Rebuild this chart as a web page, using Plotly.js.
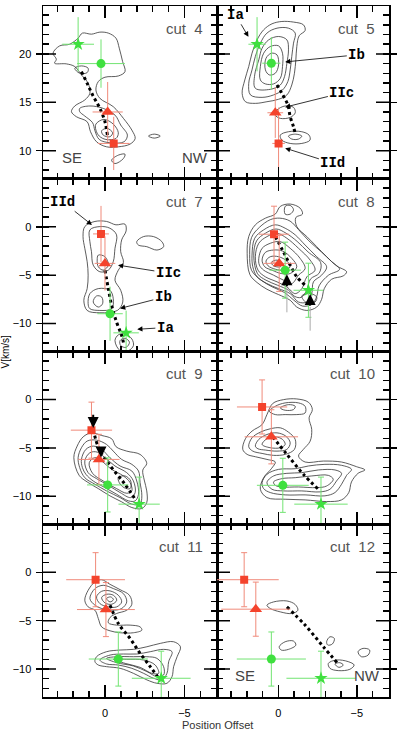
<!DOCTYPE html>
<html><head><meta charset="utf-8">
<script src="https://cdn.plot.ly/plotly-3.0.1.min.js"></script>
<style>html,body{margin:0;padding:0;background:#fff;}#chart{width:397px;height:731px;}</style>
</head><body><div id="chart"></div>
<script>
// ---------------- data ----------------
const cutNames = ['cut\u00a0\u00a04','cut\u00a0\u00a05','cut\u00a0\u00a07','cut\u00a0\u00a08','cut\u00a0\u00a09','cut\u00a0\u00a010','cut\u00a0\u00a011','cut\u00a0\u00a012'];
// Component Ia (green star)
const IaX  = [1.69, 1.35, -1.33, -1.92, -2.15, -2.72, -3.54, -2.72];
const IaY  = [21.0, 21.0, -10.97, -6.56, -10.82, -10.82, -10.96, -10.96];
const IaEx = [1.0, 0.55, 0.8, 0.95, 1.3, 1.7, 1.85, 2.2];
const IaEy = [2.8, 2.8, 2.3, 2.8, 2.8, 2.8, 2.8, 2.8];
// Component Ib (green circle)
const IbX  = [0.25, 0.44, -0.32, -0.44, -0.17, -0.29, -0.84, 0.44];
const IbY  = [19.0, 19.04, -8.99, -4.48, -8.83, -8.87, -8.97, -8.97];
const IbEx = [1.5, 0.58, 0.8, 1.0, 1.3, 1.65, 1.86, 2.2];
const IbEy = [2.5, 2.7, 2.8, 2.9, 2.8, 2.8, 2.8, 2.8];
// Component IIc (red triangle)
const IIcX  = [-0.17, 0.19, 0.0, -0.06, 0.38, 0.44, -0.06, 1.43];
const IIcY  = [14.0, 13.92, -3.78, -3.78, -6.19, -3.85, -3.85, -3.81];
const IIcEx = [0.95, 0.5, 0.65, 1.0, 1.3, 1.7, 1.82, 2.2];
const IIcEy = [3.1, 2.6, 2.8, 2.9, 2.6, 2.8, 2.8, 2.8];
// Component IId (red square)
const IIdX  = [-0.55, -0.02, 0.25, 0.27, 0.85, 1.03, 0.59, 2.17];
const IIdY  = [10.75, 10.75, -0.73, -0.76, -3.16, -0.76, -0.76, -0.76];
const IIdEx = [1.0, 0.4, 0.5, 0.97, 1.3, 1.6, 1.85, 2.2];
const IIdEy = [2.75, 3.7, 2.9, 2.9, 2.9, 2.8, 2.8, 2.8];

// dotted ridge lines (x, y) per cut
const ridgeX = [
  [1.48, 1.12, 0.78, 0.32, 0.0, -0.15],
  [0.08, -0.23, -0.61, -0.76, -0.97, -1.08],
  [0.0, -0.21, -0.42, -0.73, -1.05, -1.2],
  [0.19, -0.27, -0.76, -1.18, -1.71],
  [0.74, 0.36, -0.42, -1.26, -1.9],
  [0.36, -0.55, -1.6, -2.55],
  [-0.32, -0.84, -1.58, -2.21, -2.85, -3.31],
  [-0.55, -1.71, -2.87, -3.82]
];
const ridgeY = [
  [18.17, 16.96, 15.76, 14.37, 12.99, 11.61],
  [16.79, 15.93, 14.72, 13.51, 12.47, 11.78],
  [-4.48, -6.39, -8.13, -9.86, -11.25, -12.29],
  [-1.01, -2.4, -3.96, -5.17, -6.04],
  [-3.09, -5.15, -7.04, -8.76, -10.31],
  [-3.85, -5.67, -7.73, -9.28],
  [-3.4, -5.29, -6.84, -8.38, -9.76, -10.79],
  [-3.57, -5.46, -7.7, -9.48]
];

// contour outlines: flat lists x1,y1,x2,y2,...
const cont4 = [
  [3.27,20.07, 2.85,20.83, 2.22,21.0, 1.69,21.63, 1.42,22.15, 0.85,22.04, 0.32,22.25, -0.21,22.15, -0.69,21.63, -0.9,20.59, -1.11,19.21, -1.26,18.17, -0.84,17.72, 0.0,17.59, 0.42,17.14, 0.57,16.27, 0.32,15.41, -0.52,14.55, -1.16,13.34, -1.69,12.13, -1.9,11.26, -1.58,10.68, -0.84,10.4, -0.1,10.4, 0.53,10.92, 0.91,11.96, 1.12,12.99, 1.8,13.51, 2.11,14.03, 1.9,14.62, 1.27,15.24, 0.95,15.93, 1.06,16.96, 1.48,17.83, 1.9,18.69, 2.43,18.97, 3.17,19.04, 3.06,19.45],
  [1.9,18.52, 1.48,18.76, 1.06,18.52, 1.12,18.07, 1.59,18.0],
  [1.59,14.37, 0.95,14.62, 0.11,14.37, -0.63,13.68, -0.99,12.65, -1.41,11.61, -1.2,10.92, -0.31,10.82, 0.36,11.16, 0.63,12.06, 0.78,12.89, 1.27,13.58, 1.59,14.03],
  [0.57,12.75, 0.07,13.23, -0.52,12.75, -0.84,11.85, -0.69,11.26, -0.06,11.16, 0.36,11.51, 0.57,12.13],
  [0.21,12.06, -0.14,12.3, -0.48,11.85, -0.31,11.44, 0.11,11.61],
  [-2.74,11.51, -3.1,11.71, -3.48,11.51, -3.1,11.3],
  [-0.42,9.02, -0.84,9.54, -1.26,9.64, -1.16,9.19, -0.63,8.67]
];
const cont5 = [
  [2.09,15.06, 2.3,15.93, 2.13,17.31, 1.88,18.69, 1.67,20.07, 1.35,21.45, 0.93,22.49, 0.4,23.11, -0.23,23.35, -0.97,23.29, -1.6,23.01, -1.71,22.42, -1.33,21.87, -1.18,20.76, -1.12,19.38, -1.03,18.0, -0.86,16.79, -0.55,15.76, -0.02,15.31, 0.72,15.06, 1.46,14.89],
  [1.77,15.76, 1.88,16.96, 1.67,18.35, 1.46,19.73, 1.14,21.11, 0.72,22.15, 0.08,22.66, -0.65,22.66, -1.08,22.15, -0.97,21.11, -0.86,19.73, -0.76,18.35, -0.61,17.14, -0.27,16.27, 0.3,15.76, 1.03,15.51],
  [1.46,16.45, 1.5,17.83, 1.24,19.38, 1.03,20.59, 0.61,21.45, -0.02,21.8, -0.55,21.45, -0.65,20.42, -0.55,19.04, -0.4,17.66, -0.13,16.79, 0.51,16.34],
  [1.14,17.31, 1.14,18.69, 0.93,20.07, 0.51,20.76, -0.02,20.83, -0.27,20.07, -0.27,18.69, -0.13,17.48, 0.3,16.9, 0.82,16.9],
  [0.82,18.35, 0.78,19.55, 0.44,20.07, 0.08,19.9, -0.02,18.86, 0.19,18.0, 0.57,17.83],
  [0.08,14.2, -0.44,14.62, -0.97,14.48, -1.08,13.92, -0.76,13.44, -0.13,13.34, 0.19,13.68],
  [-0.13,11.61, -0.65,11.96, -1.5,11.96, -1.96,11.61, -2.02,11.09, -1.5,10.75, -0.76,10.75, -0.23,11.09],
  [-0.65,11.51, -1.08,11.71, -1.5,11.51, -1.29,11.2, -0.86,11.2]
];
const cont7 = [
  [1.27,0.03, 0.63,0.56, -0.1,0.56, -0.69,0.21, -1.26,0.28, -1.33,-0.42, -1.05,-1.35, -0.99,-2.57, -1.16,-3.68, -0.84,-4.48, -0.63,-5.52, -0.99,-6.56, -1.12,-7.78, -0.78,-8.65, 0.32,-8.89, 1.12,-8.65, 1.33,-7.6, 1.12,-6.39, 1.06,-5.0, 1.12,-3.61, 1.27,-2.22, 1.38,-1.01],
  [0.95,-0.31, 0.32,0.03, -0.31,-0.14, -0.73,-0.83, -0.63,-2.22, -0.52,-3.61, -0.21,-4.48, 0.32,-4.65, 0.74,-3.96, 0.85,-2.57, 0.95,-1.53],
  [0.42,-2.92, 0.0,-3.09, -0.21,-3.96, 0.11,-4.48, 0.42,-4.13, 0.49,-3.44],
  [1.06,-7.95, 0.95,-6.91, 0.42,-6.39, -0.31,-6.56, -0.52,-7.43, -0.42,-8.47, 0.32,-8.65, 0.95,-8.47],
  [0.74,-7.78, 0.53,-7.15, 0.21,-7.26, 0.15,-7.95, 0.42,-8.3],
  [-0.63,-11.77, -0.84,-11.18, -1.26,-11.08, -1.69,-11.6, -1.79,-12.29, -1.48,-12.81, -0.95,-12.81],
  [-0.95,-11.77, -1.26,-11.53, -1.54,-11.94, -1.33,-12.47, -0.99,-12.29],
  [-2.0,-1.53, -2.42,-1.01, -3.06,-1.01, -3.58,-1.53, -3.69,-2.05, -3.27,-2.4, -2.63,-2.05, -2.1,-1.88]
];
const cont8 = [
  [1.98,-2.74, 1.88,-1.01, 1.46,0.21, 0.82,0.9, 0.19,1.32, -0.13,2.12, -0.76,2.36, -1.39,1.94, -1.54,1.32, -1.12,0.97, -1.18,0.03, -1.82,-1.01, -2.45,-2.05, -3.08,-3.09, -3.71,-4.03, -4.35,-4.65, -4.14,-5.07, -3.4,-5.42, -2.93,-6.39, -2.76,-7.5, -2.45,-8.3, -1.82,-8.65, -1.18,-8.3, -0.76,-7.6, -0.02,-7.01, 0.72,-6.46, 1.35,-5.76, 1.81,-4.93],
  [1.82,-2.85, 1.7,-1.1, 1.2,-0.05, 0.5,0.75, -0.1,0.9, -0.75,0.6, -1.3,-0.3, -1.95,-1.45, -2.75,-2.6, -3.4,-3.6, -3.9,-4.4, -3.2,-5.0, -2.6,-6.1, -2.45,-7.2, -2.15,-8.0, -1.55,-8.2, -1.0,-7.6, -0.4,-6.8, 0.4,-6.2, 1.1,-5.5, 1.7,-4.5],
  [1.67,-2.92, 1.5,-1.18, 0.93,-0.31, 0.19,0.21, -0.44,-0.14, -1.08,-0.83, -1.71,-1.88, -2.45,-3.09, -3.08,-4.13, -2.76,-5.0, -2.24,-5.69, -2.13,-6.91, -1.82,-7.78, -1.29,-7.78, -0.76,-6.91, -0.02,-6.39, 0.72,-5.87, 1.35,-5.17, 1.62,-4.13],
  [1.56,-3.0, 1.38,-1.45, 0.82,-0.66, 0.14,-0.22, -0.5,-0.66, -1.2,-1.5, -1.9,-2.6, -2.7,-3.7, -2.6,-4.8, -2.05,-5.4, -1.8,-6.6, -1.45,-7.3, -1.05,-7.2, -0.65,-6.55, 0.03,-6.05, 0.78,-5.52, 1.32,-4.85],
  [1.46,-3.09, 1.24,-1.7, 0.72,-1.01, 0.08,-0.66, -0.55,-1.18, -1.29,-2.22, -2.03,-3.44, -2.34,-4.48, -1.82,-5.17, -1.5,-6.39, -1.08,-6.91, -0.55,-6.22, 0.08,-5.69, 0.82,-5.17, 1.29,-4.48],
  [1.24,-3.26, 1.03,-2.22, 0.51,-1.7, -0.13,-1.53, -0.76,-2.22, -1.39,-3.26, -1.71,-4.31, -1.29,-5.0, -0.86,-5.87, -0.34,-5.52, 0.3,-5.0, 0.93,-4.48, 1.2,-3.96],
  [1.03,-3.44, 0.82,-2.64, 0.3,-2.4, -0.27,-2.5, -0.86,-3.26, -1.18,-4.13, -0.76,-4.83, -0.19,-4.83, 0.4,-4.48, 0.86,-4.13],
  [0.78,-3.54, 0.51,-3.09, -0.02,-3.09, -0.55,-3.54, -0.76,-4.13, -0.34,-4.48, 0.19,-4.38, 0.65,-4.03],
  [0.44,-3.68, 0.08,-3.44, -0.27,-3.78, -0.13,-4.13, 0.3,-4.03],
  [-1.5,-7.15, -2.03,-6.91, -2.45,-7.26, -2.34,-7.78, -1.82,-7.88],
  [-0.44,2.12, -0.76,2.22, -0.97,1.77, -0.76,1.32, -0.44,1.32]
];
const cont9 = [
  [1.96,-6.01, 1.75,-4.81, 1.37,-3.85, 0.85,-3.44, 0.21,-3.71, -0.42,-4.05, -0.7,-4.88, -1.37,-5.33, -2.21,-5.67, -2.63,-6.6, -2.38,-7.29, -2.47,-8.32, -2.63,-9.45, -2.63,-10.65, -2.32,-11.27, -1.69,-11.17, -1.05,-10.58, -0.31,-9.96, 0.42,-9.21, 1.12,-8.52, 1.63,-7.83],
  [1.69,-6.01, 1.48,-4.98, 1.12,-4.29, 0.53,-4.19, -0.1,-4.64, -0.52,-5.33, -1.05,-6.19, -1.69,-6.7, -2.11,-7.39, -2.21,-8.59, -2.32,-9.96, -2.21,-10.82, -1.69,-10.82, -0.95,-10.14, -0.1,-9.45, 0.63,-8.76, 1.27,-8.08, 1.59,-7.04],
  [1.48,-6.19, 1.2,-5.15, 0.74,-4.81, 0.21,-5.15, -0.31,-6.01, -0.95,-6.87, -1.69,-7.39, -2.0,-8.42, -2.11,-9.79, -1.9,-10.48, -1.48,-10.48, -0.73,-9.79, 0.0,-9.11, 0.74,-8.42, 1.2,-7.73, 1.42,-7.04],
  [1.27,-6.36, 0.95,-5.5, 0.49,-5.43, 0.0,-6.01, -0.63,-6.87, -1.37,-7.56, -1.79,-8.42, -1.9,-9.62, -1.62,-10.14, -0.95,-9.62, -0.21,-8.87, 0.53,-8.18, 1.06,-7.56],
  [0.99,-6.53, 0.63,-6.01, 0.21,-6.36, -0.42,-7.22, -1.16,-7.9, -1.58,-8.59, -1.69,-9.45, -1.37,-9.69, -0.73,-9.21, 0.11,-8.42, 0.78,-7.63],
  [-0.84,-8.08, -1.26,-7.9, -1.62,-8.42, -1.58,-9.21, -1.2,-9.11, -0.9,-8.59]
];
const cont10 = [
  [2.26,-5.15, 2.09,-4.05, 1.67,-3.26, 1.03,-2.58, 0.72,-1.55, 0.36,-0.41, -0.34,0.0, -1.18,0.07, -1.92,-0.27, -2.17,-1.03, -1.96,-1.89, -2.13,-3.09, -2.03,-4.3, -1.6,-5.15, -1.29,-5.84, -1.71,-6.46, -2.87,-6.36, -4.03,-6.46, -4.98,-6.94, -5.51,-7.28, -5.08,-7.63, -4.66,-8.52, -4.49,-9.62, -4.03,-10.38, -3.08,-10.55, -1.71,-10.38, -0.44,-10.31, 0.72,-10.14, 1.14,-9.28, 0.93,-8.08, 0.44,-7.15, 0.19,-6.46, 0.72,-6.19, 1.46,-5.91, 1.98,-5.67],
  [1.88,-4.88, 1.67,-3.95, 1.14,-3.37, 0.51,-3.02, -0.13,-2.92, -0.65,-3.37, -1.08,-4.12, -1.03,-5.15, -0.44,-5.67, 0.3,-5.77, 1.03,-5.57, 1.62,-5.33],
  [1.46,-4.81, 1.24,-4.12, 0.72,-3.61, 0.08,-3.44, -0.48,-3.78, -0.76,-4.47, -0.55,-5.15, 0.08,-5.33, 0.82,-5.22, 1.29,-5.09],
  [1.03,-4.64, 0.72,-4.05, 0.19,-3.85, -0.27,-4.12, -0.44,-4.64, -0.13,-4.98, 0.51,-4.98],
  [0.57,-1.2, 0.19,-0.69, -0.44,-0.34, -1.29,-0.34, -1.71,-0.69, -1.71,-1.38, -1.18,-1.55, -0.44,-1.55, 0.19,-1.55],
  [-0.13,-0.86, -0.65,-0.52, -1.08,-0.69, -0.97,-1.03, -0.44,-1.1],
  [1.03,-8.59, 0.72,-7.73, -0.02,-7.22, -1.08,-7.15, -1.92,-6.87, -2.97,-6.7, -4.03,-6.8, -4.66,-7.22, -4.35,-7.84, -4.03,-8.76, -3.61,-9.62, -2.97,-9.96, -1.71,-9.86, -0.44,-9.86, 0.51,-9.62, 0.93,-9.21],
  [0.72,-8.59, 0.3,-7.9, -0.55,-7.63, -1.5,-7.56, -2.55,-7.28, -3.61,-7.28, -4.03,-7.63, -3.71,-8.42, -3.29,-9.28, -2.66,-9.55, -1.5,-9.45, -0.34,-9.45, 0.4,-9.28],
  [0.3,-8.52, -0.23,-8.18, -1.08,-8.08, -2.13,-7.9, -3.19,-7.84, -3.5,-8.25, -3.08,-8.94, -2.45,-9.11, -1.29,-9.04, -0.23,-9.04, 0.19,-8.87]
];
const cont11 = [
  [1.27,-2.89, 1.06,-1.86, 0.63,-0.99, 0.21,-0.76, -0.32,-1.24, -0.95,-1.79, -1.54,-2.37, -1.69,-3.3, -1.37,-3.92, -0.73,-4.26, -0.32,-4.67, -0.21,-5.22, -0.74,-5.46, -1.58,-5.46, -2.21,-5.64, -2.32,-5.98, -1.79,-6.25, -0.95,-6.25, -0.32,-6.05, 0.21,-5.64, 0.42,-4.78, 0.63,-3.92, 1.06,-3.57],
  [0.95,-2.71, 0.63,-1.68, 0.11,-1.34, -0.53,-1.68, -1.16,-2.2, -1.37,-3.06, -1.05,-3.74, -0.42,-3.92, 0.21,-3.74, 0.63,-3.4],
  [0.53,-2.54, 0.21,-1.96, -0.32,-1.92, -0.84,-2.37, -1.05,-3.06, -0.74,-3.57, -0.21,-3.57, 0.32,-3.23],
  [0.21,-2.61, -0.1,-2.27, -0.53,-2.37, -0.74,-2.89, -0.42,-3.3, 0.0,-3.16],
  [-0.1,-2.71, -0.36,-2.54, -0.53,-2.82, -0.32,-3.06],
  [0.63,-9.24, 0.53,-8.73, -0.1,-8.21, -0.95,-8.04, -1.79,-7.97, -2.64,-7.7, -3.48,-7.35, -4.32,-7.18, -4.75,-7.7, -4.54,-8.73, -4.32,-9.76, -4.22,-10.79, -3.9,-11.48, -3.27,-11.48, -2.64,-11.13, -1.79,-10.45, -0.95,-9.93, -0.1,-9.76, 0.42,-9.59],
  [0.32,-9.07, -0.32,-8.56, -1.16,-8.45, -2.0,-8.45, -2.85,-8.21, -3.69,-7.97, -4.22,-8.21, -4.01,-9.24, -3.9,-10.45, -3.59,-11.13, -3.06,-10.96, -2.43,-10.45, -1.69,-9.93, -0.84,-9.59, -0.1,-9.48],
  [-0.1,-8.9, -0.74,-8.73, -1.79,-8.73, -2.64,-8.73, -3.27,-8.9, -3.69,-9.76, -3.69,-10.62, -3.27,-10.79, -2.64,-10.27, -1.79,-9.69, -0.74,-9.35],
  [-0.53,-9.0, -1.37,-9.0, -2.43,-9.07, -3.16,-9.59, -3.38,-10.45, -2.95,-10.45, -2.21,-9.83, -1.27,-9.42]
];
const cont12 = [
  [0.72,-3.4, 0.3,-3.06, -0.55,-2.96, -1.08,-3.33, -1.25,-3.92, -0.86,-4.26, -0.13,-4.09, 0.51,-3.74],
  [-0.06,-7.7, -0.44,-7.18, -0.97,-7.11, -1.12,-7.53, -0.65,-7.97, -0.19,-8.04],
  [-3.08,-7.18, -3.29,-6.67, -3.57,-6.84, -3.44,-7.42, -3.15,-7.52],
  [-3.19,-9.42, -3.71,-9.07, -4.45,-9.24, -4.83,-9.59, -4.56,-10.03, -3.82,-10.17, -3.29,-9.93],
  [-3.61,-9.48, -3.92,-9.35, -4.14,-9.59, -3.86,-9.83],
  [-5.08,-8.21, -5.4,-7.87, -5.82,-8.04, -5.72,-8.56, -5.29,-8.73]
];
const contours = [cont4, cont5, cont7, cont8, cont9, cont10, cont11, cont12];

// labelled arrows (cut 5 and cut 7)
const lblPanel = [1, 1, 1, 1, 2, 2, 2, 2];
const lblText  = ['Ia', 'Ib', 'IIc', 'IId', 'IId', 'IIc', 'Ib', 'Ia'];
const lblTextX = [2.72, -5.0, -4.05, -3.48, 2.66, -3.99, -3.67, -3.8];
const lblTextY = [24.04, 19.9, 15.96, 8.7, 2.6, -4.79, -7.29, -10.42];
const lblHeadX = [1.9, -0.44, -0.44, -0.44, 0.82, -0.82, -0.95, -2.03];
const lblHeadY = [21.76, 19.17, 14.5, 10.26, 0.2, -3.96, -8.44, -10.6];
// black motion arrowheads (cut 8 up, cut 9 down)
const mvPanel = [3, 3, 4, 4];
const mvHeadX = [-0.55, -2.03, 0.74, 0.25];
const mvHeadY = [-4.9, -6.95, -2.95, -6.0];
const mvTailY = [-6.3, -8.3, -1.4, -4.8];
const mvShaftEndY = [-9.0, -10.9, null, null];
// SE / NW orientation labels
const orientPanel = [0, 0, 7, 7];
const orientText = ['SE', 'NW', 'SE', 'NW'];
const orientX = [2.85, -4.75, 2.85, -4.68];
const orientY = [9.33, 9.33, -10.72, -10.72];

// ---------------- build ----------------
const RED = '#f4432c', RED_E = '#f08a7a', GREEN = '#3fe03f', GREEN_E = '#72e472';
const X_RANGE = [3.9, -7.05];
const Y_RANGE_TOP = [7.1, 24.95], Y_RANGE = [-12.9, 4.98];
const traces = [];
const shapes = [];
const layout = {
  width: 397, height: 731,
  margin: {l: 43, r: 8, t: 6, b: 34},
  paper_bgcolor: '#fff', plot_bgcolor: '#fff',
  showlegend: false,
  font: {family: 'Liberation Sans, Arial, sans-serif', size: 11, color: '#000'},
  annotations: [], shapes: shapes
};
const colSplit = 174 / 346;
const panelW = [174, 172];
function ax(p) { return p === 0 ? '' : String(p + 1); }

for (let p = 0; p < 8; p++) {
  const row = Math.floor(p / 2), col = p % 2, id = ax(p);
  const xa = 'x' + id, ya = 'y' + id;
  const yr = row === 0 ? Y_RANGE_TOP : Y_RANGE;
  const common = {
    showline: true, linecolor: '#000', linewidth: 1.5, mirror: 'allticks',
    tickwidth: 1.5, tickcolor: '#000', tick0: 0, dtick: 5,
    minor: {ticks: 'inside', dtick: 1, ticklen: 6, tickwidth: 1.5, tickcolor: '#000'},
    showgrid: false, zeroline: false, fixedrange: true,
    tickfont: {size: 11, color: '#000'}
  };
  layout['xaxis' + id] = Object.assign({}, common, {
    domain: col === 0 ? [0, colSplit] : [colSplit, 1],
    range: X_RANGE, anchor: ya, ticks: 'inside', ticklen: 12,
    showticklabels: row === 3, ticklabelstandoff: 5
  });
  layout['yaxis' + id] = Object.assign({}, common, {
    domain: [1 - (row + 1) * 0.25, 1 - row * 0.25],
    range: yr, anchor: xa, ticks: 'outside', ticklen: 6,
    showticklabels: col === 0, ticklabelstandoff: 2
  });

  // inside part of the major velocity ticks (they cross the frame)
  const my = 13 / panelW[col];
  for (let v = Math.ceil(yr[0] / 5) * 5; v <= yr[1]; v += 5) {
    shapes.push({type: 'line', xref: xa + ' domain', yref: ya, x0: 0, x1: my, y0: v, y1: v,
      line: {color: '#000', width: 1.5}});
    shapes.push({type: 'line', xref: xa + ' domain', yref: ya, x0: 1, x1: 1 - my, y0: v, y1: v,
      line: {color: '#000', width: 1.5}});
  }

  // contours
  contours[p].forEach(flat => {
    const xs = [], ys = [];
    for (let i = 0; i < flat.length; i += 2) { xs.push(flat[i]); ys.push(flat[i + 1]); }
    xs.push(flat[0]); ys.push(flat[1]);
    traces.push({type: 'scatter', mode: 'lines', x: xs, y: ys, xaxis: xa, yaxis: ya,
      line: {color: '#333', width: 0.8, shape: 'spline', smoothing: 1}, hoverinfo: 'skip'});
  });
  // ridge
  traces.push({type: 'scatter', mode: 'lines', x: ridgeX[p], y: ridgeY[p], xaxis: xa, yaxis: ya,
    line: {color: '#000', width: 3, dash: 'dot', shape: 'spline'}, hoverinfo: 'skip'});

  const cap = p >= 3 ? 3 : 0;
  const comps = [
    [IIdX, IIdY, IIdEx, IIdEy, 'square', 8, RED, RED_E],
    [IIcX, IIcY, IIcEx, IIcEy, 'triangle-up', 11, RED, RED_E],
    [IbX, IbY, IbEx, IbEy, 'circle', 9, GREEN, GREEN_E],
    [IaX, IaY, IaEx, IaEy, 'star', 10, GREEN, GREEN_E]
  ];
  comps.forEach(c => {
    traces.push({type: 'scatter', mode: 'markers', x: [c[0][p]], y: [c[1][p]], xaxis: xa, yaxis: ya,
      marker: {symbol: c[4], size: c[5], color: c[6], line: {width: 0}},
      error_x: {type: 'data', array: [c[2][p]], visible: true, color: c[7], thickness: 1, width: 0},
      error_y: {type: 'data', array: [c[3][p]], visible: true, color: c[7], thickness: 1, width: cap},
      hoverinfo: 'skip', cliponaxis: true});
  });

  // cut label
  layout.annotations.push({xref: xa + ' domain', yref: ya + ' domain', x: 0.93, y: 0.87,
    xanchor: 'right', yanchor: 'middle', showarrow: false, text: cutNames[p],
    font: {family: 'Liberation Sans, Arial, sans-serif', size: 15, color: '#555'}});
}

// labelled arrows
lblText.forEach((t, i) => {
  const id = ax(lblPanel[i]);
  layout.annotations.push({xref: 'x' + id, yref: 'y' + id, axref: 'x' + id, ayref: 'y' + id,
    x: lblHeadX[i], y: lblHeadY[i], ax: lblTextX[i], ay: lblTextY[i], text: t,
    showarrow: true, arrowhead: 2, arrowsize: 1.3, arrowwidth: 0.8, arrowcolor: '#000',
    font: {family: 'Liberation Mono, DejaVu Sans Mono, monospace', size: 14, color: '#000', weight: 'bold'}});
});
// motion arrows
mvHeadX.forEach((x, i) => {
  const id = ax(mvPanel[i]);
  if (mvShaftEndY[i] !== null) {
    layout.annotations.push({xref: 'x' + id, yref: 'y' + id, axref: 'x' + id, ayref: 'y' + id,
      x: x, y: mvTailY[i], ax: x, ay: mvShaftEndY[i], text: '', showarrow: true,
      arrowhead: 0, arrowwidth: 1, arrowcolor: '#aaa'});
  }
  layout.annotations.push({xref: 'x' + id, yref: 'y' + id, axref: 'x' + id, ayref: 'y' + id,
    x: x, y: mvHeadY[i], ax: x, ay: mvTailY[i], text: '', showarrow: true,
    arrowhead: 2, arrowsize: 1.1, arrowwidth: 2, arrowcolor: '#000'});
});
// orientation labels
orientText.forEach((t, i) => {
  const id = ax(orientPanel[i]);
  layout.annotations.push({xref: 'x' + id, yref: 'y' + id, x: orientX[i], y: orientY[i],
    xanchor: 'left', yanchor: 'middle', showarrow: false, text: t,
    font: {family: 'Liberation Sans, Arial, sans-serif', size: 15, color: '#444'}});
});
// axis titles
layout.annotations.push({xref: 'paper', yref: 'paper', x: -0.107, y: 0.5, textangle: -90,
  showarrow: false, text: 'V[km/s]', xanchor: 'center', yanchor: 'middle',
  font: {family: 'Liberation Sans, Arial, sans-serif', size: 10, color: '#000'}});
layout.annotations.push({xref: 'paper', yref: 'paper', x: colSplit, y: -0.041,
  showarrow: false, text: 'Position Offset', xanchor: 'center', yanchor: 'middle',
  font: {family: 'Liberation Sans, Arial, sans-serif', size: 11, color: '#333'}});

Plotly.newPlot('chart', traces, layout, {staticPlot: true, displayModeBar: false});
</script></body></html>
